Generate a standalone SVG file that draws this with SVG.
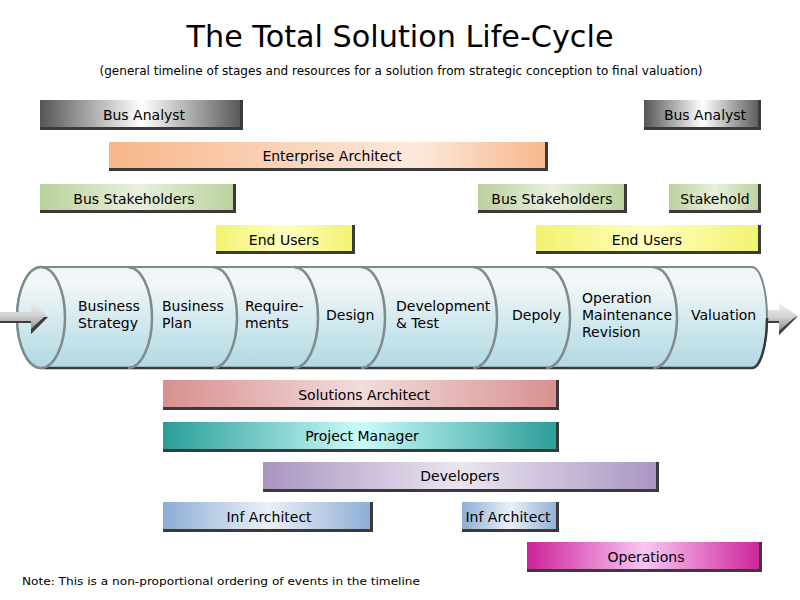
<svg xmlns="http://www.w3.org/2000/svg" width="800" height="600" viewBox="0 0 800 600">
<defs>
<style>
.t{font-family:"DejaVu Sans",Verdana,sans-serif;fill:#000}
.lbl{font-family:"DejaVu Sans",Verdana,sans-serif;font-size:14px;fill:#000;text-anchor:middle}
.stg{font-family:"DejaVu Sans",Verdana,sans-serif;font-size:14px;fill:#000}
.sh{fill:#3a3a3a}
.div{fill:none;stroke:#7f8a8c;stroke-width:2.5}
.ashadow{fill:#3c3c3c}
</style>
<linearGradient id="gGray" x1="0" x2="1" y1="0" y2="0"><stop offset="0" stop-color="#555"/><stop offset="0.5" stop-color="#fff"/><stop offset="1" stop-color="#555"/></linearGradient>
<linearGradient id="gOrange" x1="0" x2="1" y1="0" y2="0"><stop offset="0" stop-color="#f7b68a"/><stop offset="0.7" stop-color="#fde9dc"/><stop offset="1" stop-color="#f7b68a"/></linearGradient>
<linearGradient id="gGreen" x1="0" x2="1" y1="0" y2="0"><stop offset="0" stop-color="#b9d19c"/><stop offset="0.5" stop-color="#e9f0de"/><stop offset="1" stop-color="#b9d19c"/></linearGradient>
<linearGradient id="gYellow" x1="0" x2="1" y1="0" y2="0"><stop offset="0" stop-color="#f2f270"/><stop offset="0.5" stop-color="#ffffbf"/><stop offset="1" stop-color="#f2f270"/></linearGradient>
<linearGradient id="gRed" x1="0" x2="1" y1="0" y2="0"><stop offset="0" stop-color="#d88f8f"/><stop offset="0.5" stop-color="#f3dcdc"/><stop offset="1" stop-color="#d88f8f"/></linearGradient>
<linearGradient id="gTeal" x1="0" x2="1" y1="0" y2="0"><stop offset="0" stop-color="#2a9d98"/><stop offset="0.5" stop-color="#c9fbfb"/><stop offset="1" stop-color="#2a9d98"/></linearGradient>
<linearGradient id="gPurple" x1="0" x2="1" y1="0" y2="0"><stop offset="0" stop-color="#a995c1"/><stop offset="0.5" stop-color="#ebe5f0"/><stop offset="1" stop-color="#a995c1"/></linearGradient>
<linearGradient id="gBlue" x1="0" x2="1" y1="0" y2="0"><stop offset="0" stop-color="#8cadd4"/><stop offset="0.5" stop-color="#eaf0f8"/><stop offset="1" stop-color="#8cadd4"/></linearGradient>
<linearGradient id="gMag" x1="0" x2="1" y1="0" y2="0"><stop offset="0" stop-color="#cc2299"/><stop offset="0.5" stop-color="#f9c6f3"/><stop offset="1" stop-color="#cc2299"/></linearGradient>
<linearGradient id="gCyl" x1="0" x2="0" y1="0" y2="1"><stop offset="0" stop-color="#eef4f6"/><stop offset="0.15" stop-color="#f3f7f8"/><stop offset="0.6" stop-color="#cde7ed"/><stop offset="1" stop-color="#b2d8e2"/></linearGradient>
<linearGradient id="gArrow" x1="0" x2="0" y1="0" y2="1"><stop offset="0" stop-color="#f4f4f4"/><stop offset="0.45" stop-color="#d0d0d0"/><stop offset="1" stop-color="#7a7a7a"/></linearGradient>
</defs>
<rect width="800" height="600" fill="#fff"/>
<g id="title">
<text class="t" x="400" y="47" font-size="30" text-anchor="middle" textLength="427" lengthAdjust="spacingAndGlyphs">The Total Solution Life-Cycle</text>
<text class="t" x="401" y="75" font-size="12" text-anchor="middle" textLength="603" lengthAdjust="spacingAndGlyphs">(general timeline of stages and resources for a solution from strategic conception to final valuation)</text>
</g>
<g id="connectors">
<g id="arrow-out">
<path d="M755,310 L779,310 L779,303 L798,316 L779,335 L779,323 L755,323 Z" fill="url(#gArrow)"/>
<path class="ashadow" d="M798,316 L779,335 L779,331 L794,318 Z"/>
<path class="ashadow" d="M755,321 L779,321 L779,323 L755,323 Z"/>
</g>
</g>
<g id="cylinder">
<path d="M41,267 L752,267 A15,50.5 0 0 1 752,368 L41,368 A24,50.5 0 0 1 41,267 Z" fill="url(#gCyl)" stroke="#7f8a8c" stroke-width="2"/>
<path d="M41,368 L752,368 A15,50.5 0 0 0 767,318" fill="none" stroke="#3a3a3a" stroke-width="2.5"/>
<ellipse cx="41" cy="317.5" rx="24" ry="50.5" fill="url(#gCyl)" stroke="#7f8a8c" stroke-width="2.5"/>
<path class="div" d="M128,267 A24,50.5 0 0 1 128,368"/>
<path class="div" d="M213,267 A24,50.5 0 0 1 213,368"/>
<path class="div" d="M294,267 A24,50.5 0 0 1 294,368"/>
<path class="div" d="M361,267 A24,50.5 0 0 1 361,368"/>
<path class="div" d="M473,267 A24,50.5 0 0 1 473,368"/>
<path class="div" d="M546,267 A24,50.5 0 0 1 546,368"/>
<path class="div" d="M653,267 A24,50.5 0 0 1 653,368"/>
</g>
<g id="arrow-in">
<path d="M0,312 L31,312 L31,301 L48,317 L31,334 L31,323 L0,323 Z" fill="url(#gArrow)"/>
<path class="ashadow" d="M48,317 L31,334 L31,329 L44,317 Z"/>
<path class="ashadow" d="M0,321 L31,321 L31,323 L0,323 Z"/>
</g>
<g id="stage-business-strategy"><text class="stg" x="78" y="311">Business</text><text class="stg" x="78" y="328">Strategy</text></g>
<g id="stage-business-plan"><text class="stg" x="162" y="311">Business</text><text class="stg" x="162" y="328">Plan</text></g>
<g id="stage-requirements"><text class="stg" x="245" y="311">Require-</text><text class="stg" x="245" y="328">ments</text></g>
<g id="stage-design"><text class="stg" x="326" y="320">Design</text></g>
<g id="stage-development"><text class="stg" x="396" y="311">Development</text><text class="stg" x="396" y="328">&amp; Test</text></g>
<g id="stage-depoly"><text class="stg" x="512" y="320">Depoly</text></g>
<g id="stage-operation"><text class="stg" x="582" y="303">Operation</text><text class="stg" x="582" y="320">Maintenance</text><text class="stg" x="582" y="337">Revision</text></g>
<g id="stage-valuation"><text class="stg" x="691" y="320">Valuation</text></g>

<g id="bus-analyst-1"><rect x="40" y="100" width="203" height="30" fill="url(#gGray)"/><rect class="sh" x="240" y="100" width="3" height="30"/><rect class="sh" x="40" y="127" width="203" height="3"/><text class="lbl" x="144" y="120">Bus Analyst</text></g>
<g id="bus-analyst-2"><rect x="644" y="100" width="117" height="30" fill="url(#gGray)"/><rect class="sh" x="758" y="100" width="3" height="30"/><rect class="sh" x="644" y="127" width="117" height="3"/><text class="lbl" x="705" y="120">Bus Analyst</text></g>
<g id="enterprise-architect"><rect x="109" y="142" width="439" height="29" fill="url(#gOrange)"/><rect class="sh" x="545" y="142" width="3" height="29"/><rect class="sh" x="109" y="168" width="439" height="3"/><text class="lbl" x="332" y="161">Enterprise Architect</text></g>
<g id="bus-stakeholders-1"><rect x="40" y="184" width="196" height="29" fill="url(#gGreen)"/><rect class="sh" x="233" y="184" width="3" height="29"/><rect class="sh" x="40" y="210" width="196" height="3"/><text class="lbl" x="134" y="204">Bus Stakeholders</text></g>
<g id="bus-stakeholders-2"><rect x="478" y="184" width="149" height="29" fill="url(#gGreen)"/><rect class="sh" x="624" y="184" width="3" height="29"/><rect class="sh" x="478" y="210" width="149" height="3"/><text class="lbl" x="552" y="204">Bus Stakeholders</text></g>
<g id="stakehold"><rect x="669" y="184" width="92" height="29" fill="url(#gGreen)"/><rect class="sh" x="758" y="184" width="3" height="29"/><rect class="sh" x="669" y="210" width="92" height="3"/><text class="lbl" x="715" y="204">Stakehold</text></g>
<g id="end-users-1"><rect x="216" y="225" width="139" height="29" fill="url(#gYellow)"/><rect class="sh" x="352" y="225" width="3" height="29"/><rect class="sh" x="216" y="251" width="139" height="3"/><text class="lbl" x="284" y="245">End Users</text></g>
<g id="end-users-2"><rect x="536" y="225" width="225" height="29" fill="url(#gYellow)"/><rect class="sh" x="758" y="225" width="3" height="29"/><rect class="sh" x="536" y="251" width="225" height="3"/><text class="lbl" x="647" y="245">End Users</text></g>

<g id="solutions-architect"><rect x="163" y="380" width="396" height="30" fill="url(#gRed)"/><rect class="sh" x="556" y="380" width="3" height="30"/><rect class="sh" x="163" y="407" width="396" height="3"/><text class="lbl" x="364" y="400">Solutions Architect</text></g>
<g id="project-manager"><rect x="163" y="422" width="396" height="30" fill="url(#gTeal)"/><rect class="sh" x="556" y="422" width="3" height="30"/><rect class="sh" x="163" y="449" width="396" height="3"/><text class="lbl" x="362" y="441">Project Manager</text></g>
<g id="developers"><rect x="263" y="462" width="396" height="30" fill="url(#gPurple)"/><rect class="sh" x="656" y="462" width="3" height="30"/><rect class="sh" x="263" y="489" width="396" height="3"/><text class="lbl" x="460" y="481">Developers</text></g>
<g id="inf-architect-1"><rect x="163" y="502" width="210" height="30" fill="url(#gBlue)"/><rect class="sh" x="370" y="502" width="3" height="30"/><rect class="sh" x="163" y="529" width="210" height="3"/><text class="lbl" x="269" y="522">Inf Architect</text></g>
<g id="inf-architect-2"><rect x="462" y="502" width="97" height="30" fill="url(#gBlue)"/><rect class="sh" x="556" y="502" width="3" height="30"/><rect class="sh" x="462" y="529" width="97" height="3"/><text class="lbl" x="508" y="522">Inf Architect</text></g>
<g id="operations"><rect x="527" y="542" width="235" height="30" fill="url(#gMag)"/><rect class="sh" x="759" y="542" width="3" height="30"/><rect class="sh" x="527" y="569" width="235" height="3"/><text class="lbl" x="646" y="562">Operations</text></g>

<g id="note"><text class="t" x="22" y="585" font-size="11" textLength="398" lengthAdjust="spacingAndGlyphs">Note: This is a non-proportional ordering of events in the timeline</text></g>
</svg>
